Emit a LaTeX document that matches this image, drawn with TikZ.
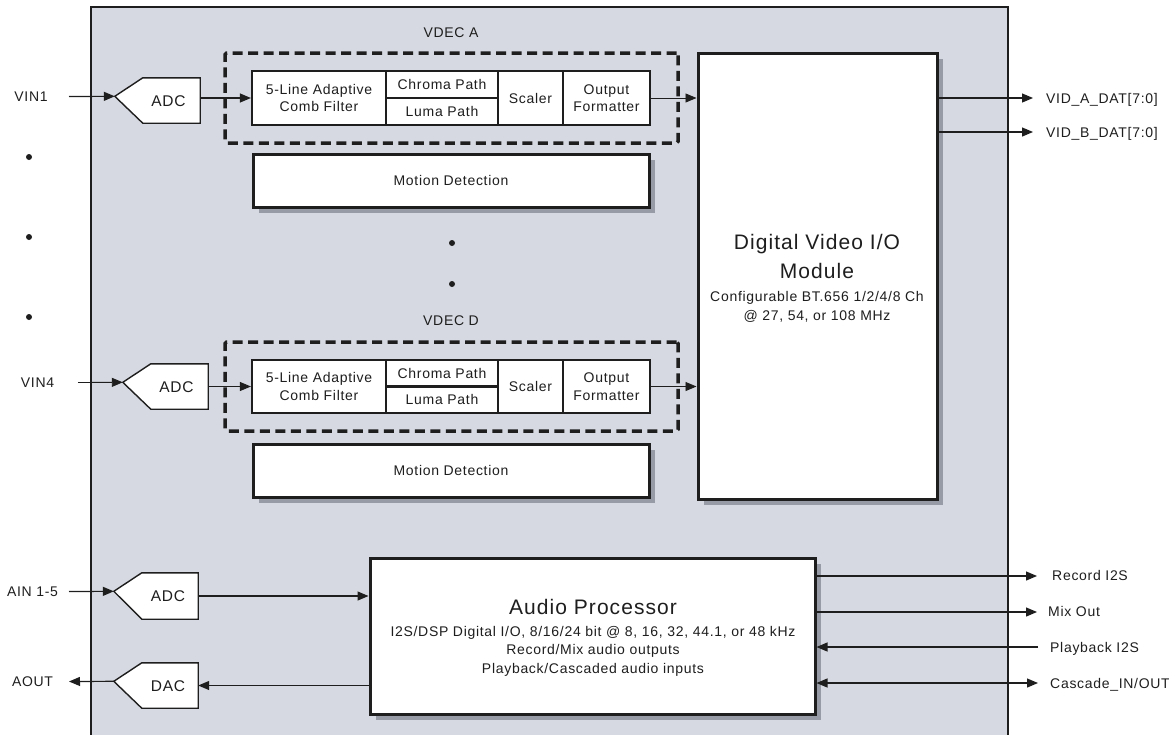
\documentclass[tikz,border=0pt]{standalone}
\usepackage{fontspec}
\setmainfont{Liberation Sans}[LetterSpace=5]
\usetikzlibrary{arrows.meta,shadows}
\definecolor{bg}{RGB}{214,217,225}
\definecolor{shd}{RGB}{150,155,165}
\definecolor{ink}{RGB}{30,30,30}
\newcommand\fsm{\fontsize{14}{17.5}\selectfont}
\newcommand\fbig{\fontsize{21}{26}\selectfont}
\newcommand\fadc{\fontsize{15.5}{18}\selectfont}
\begin{document}
\begin{tikzpicture}[x=1pt,y=-1pt,
  txt/.style={font=\fsm, text=ink, inner sep=0pt, text height=10pt, text depth=0pt},
  ttl/.style={font=\fbig, text=ink, inner sep=0pt, text height=15pt, text depth=0pt},
  cell/.style={draw=ink, fill=white, line width=2.2pt, inner sep=0pt, font=\fsm, text=ink, align=center},
  bigbox/.style={draw=ink, fill=white, line width=3pt, inner sep=0pt, font=\fsm, text=ink,
     drop shadow={shadow xshift=6pt, shadow yshift=-6pt, fill=shd, opacity=1}},
  dashbox/.style={draw=ink, line width=3.5pt, dash pattern=on 10pt off 5.5pt, inner sep=0pt, rounded corners=1.5pt},
  conv/.style={inner sep=0pt, font=\fadc, text=ink, text height=11pt, text depth=0pt},
  convline/.style={draw=ink, fill=white, line width=1.4pt, line join=miter},
  arr/.style={draw=ink, line width=1.2pt, -{Triangle[length=11pt,width=9pt]}},
  arrthin/.style={draw=ink, line width=0.9pt, -{Triangle[length=11pt,width=9pt]}},
  dblarr/.style={draw=ink, line width=1.2pt, {Triangle[length=11pt,width=9pt]}-{Triangle[length=11pt,width=9pt]}},
  dotn/.style={circle, fill=ink, inner sep=0pt, minimum size=6pt},
]
\useasboundingbox (0,0) rectangle (1169,734);
% chip frame
\path[fill=bg, draw=ink, line width=1.3pt] (91,7) rectangle (1008,760);

% ---------- VDEC A ----------
\node[txt] (labA) at (451,32) {VDEC A};
\node[dashbox, minimum width=453pt, minimum height=90pt] (vdA) at (451.5,98) {};
\node[cell, minimum width=134pt, minimum height=54pt] (combA) at (319,98) {5-Line Adaptive\\Comb Filter};
\node[cell, minimum width=112pt, minimum height=27pt] (chrA) at (442,84.5) {Chroma Path};
\node[cell, minimum width=112pt, minimum height=27pt] (lumA) at (442,111.5) {Luma Path};
\node[cell, minimum width=65pt, minimum height=54pt] (sclA) at (530.5,98) {Scaler};
\node[cell, minimum width=87pt, minimum height=54pt] (fmtA) at (606.5,98) {Output\\Formatter};
\node[bigbox, minimum width=396pt, minimum height=53pt] (motA) at (451,180.5) {Motion Detection};

% ---------- VDEC D ----------
\node[txt] (labD) at (451,320) {VDEC D};
\node[dashbox, minimum width=453pt, minimum height=89pt] (vdD) at (451.5,386.5) {};
\node[cell, minimum width=134pt, minimum height=53pt] (combD) at (319,386.5) {5-Line Adaptive\\Comb Filter};
\node[cell, minimum width=112pt, minimum height=26.5pt] (chrD) at (442,373.25) {Chroma Path};
\node[cell, minimum width=112pt, minimum height=26.5pt] (lumD) at (442,399.75) {Luma Path};
\node[cell, minimum width=65pt, minimum height=53pt] (sclD) at (530.5,386.5) {Scaler};
\node[cell, minimum width=87pt, minimum height=53pt] (fmtD) at (606.5,386.5) {Output\\Formatter};
\node[bigbox, minimum width=396pt, minimum height=53pt] (motD) at (451,470.5) {Motion Detection};

% ---------- Digital Video I/O ----------
\node[bigbox, minimum width=239pt, minimum height=446pt] (dvio) at (817.5,276) {};
\node[ttl] (dvt1) at (817,242) {Digital Video I/O};
\node[ttl] (dvt2) at (817,271) {Module};
\node[txt] (dvt3) at (817,296) {Configurable BT.656 1/2/4/8 Ch};
\node[txt] (dvt4) at (817,315) {@ 27, 54, or 108 MHz};

% ---------- Audio Processor ----------
\node[bigbox, minimum width=445pt, minimum height=156pt] (aud) at (592.5,636) {};
\node[ttl] (at1) at (593,607) {Audio Processor};
\node[txt] (at2) at (593,631) {I2S/DSP Digital I/O, 8/16/24 bit @ 8, 16, 32, 44.1, or 48 kHz};
\node[txt] (at3) at (593,649) {Record/Mix audio outputs};
\node[txt] (at4) at (593,668) {Playback/Cascaded audio inputs};

% ---------- converters ----------
\node[inner sep=0pt, minimum width=57pt, minimum height=45pt] (adcA) at (171.5,100.5) {};
\draw[convline] (adcA.north east) -- (adcA.north west) -- ++(-28,18.5) coordinate (tipA) -- (adcA.south west) -- (adcA.south east) -- cycle;
\node[conv] (adcAt) at ([xshift=-3pt]adcA.center) {ADC};

\node[inner sep=0pt, minimum width=57pt, minimum height=45pt] (adcD) at (179.5,386.5) {};
\draw[convline] (adcD.north east) -- (adcD.north west) -- ++(-28,18.5) coordinate (tipD) -- (adcD.south west) -- (adcD.south east) -- cycle;
\node[conv] (adcDt) at ([xshift=-3pt]adcD.center) {ADC};

\node[inner sep=0pt, minimum width=56pt, minimum height=46pt] (adcE) at (170,596) {};
\draw[convline] (adcE.north east) -- (adcE.north west) -- ++(-28,18.5) coordinate (tipE) -- (adcE.south west) -- (adcE.south east) -- cycle;
\node[conv] (adcEt) at ([xshift=-2pt]adcE.center) {ADC};

\node[inner sep=0pt, minimum width=56pt, minimum height=45pt] (dac) at (170,685.5) {};
\draw[convline] (dac.north east) -- (dac.north west) -- ++(-28,18.5) coordinate (tipF) -- (dac.south west) -- (dac.south east) -- cycle;
\node[conv] (dact) at ([xshift=-2pt]dac.center) {DAC};

% ---------- left labels ----------
\node[txt] (vin1) at (31,96.5) {VIN1};
\node[txt] (vin4) at (37.5,382.5) {VIN4};
\node[txt] (ain) at (32.5,591.5) {AIN 1-5};
\node[txt] (aout) at (32.5,681.5) {AOUT};
\coordinate (vin1s) at (69,96.5);
\coordinate (vin4s) at (78,382.5);
\coordinate (ains) at (69,591.5);
\coordinate (aoute) at (69,681.5);

% dots
\node[dotn] (d1) at (29,157) {};
\node[dotn] (d2) at (29,237) {};
\node[dotn] (d3) at (29,317) {};
\node[dotn] (d4) at (452,243) {};
\node[dotn] (d5) at (452,284) {};

% ---------- right labels ----------
\node[txt, anchor=west] (vidAl) at (1046,98) {VID\_A\_DAT[7:0]};
\node[txt, anchor=west] (vidBl) at (1046,132) {VID\_B\_DAT[7:0]};
\node[txt, anchor=west] (recl) at (1052,575) {Record I2S};
\node[txt, anchor=west] (mixl) at (1048,611) {Mix Out};
\node[txt, anchor=west] (pbl) at (1050,647) {Playback I2S};
\node[txt, anchor=west] (casl) at (1050,683) {Cascade\_IN/OUT};
\coordinate (vidAe) at (1033,98);
\coordinate (vidBe) at (1033,132);
\coordinate (rece) at (1037,576);
\coordinate (mixe) at (1037,612);
\coordinate (pbs) at (1038,647);
\coordinate (case) at (1038,683);

% ---------- connectors ----------
\draw[arr] (vin1s) -- (tipA);
\draw[arr] (adcA.east |- combA.west) -- (combA.west);
\draw[arrthin] (fmtA.east) -- (fmtA.east -| dvio.west);
\draw[arrthin] (vin4s) -- (tipD);
\draw[arrthin] (adcD.east) -- (combD.west);
\draw[arrthin] (fmtD.east) -- (fmtD.east -| dvio.west);
\draw[arr] (dvio.east |- vidAe) -- (vidAe);
\draw[arr] (dvio.east |- vidBe) -- (vidBe);
\draw[arr] (ains) -- (tipE);
\draw[arr] (adcE.east) -- (adcE.east -| aud.west);
\draw[arr] (aud.west |- dac.east) -- (dac.east);
\draw[arr] (tipF) -- (aoute);
\draw[arr] (aud.east |- rece) -- (rece);
\draw[arr] (aud.east |- mixe) -- (mixe);
\draw[arr] (pbs) -- (pbs -| aud.east);
\draw[dblarr] (aud.east |- case) -- (case);
\end{tikzpicture}
\end{document}
